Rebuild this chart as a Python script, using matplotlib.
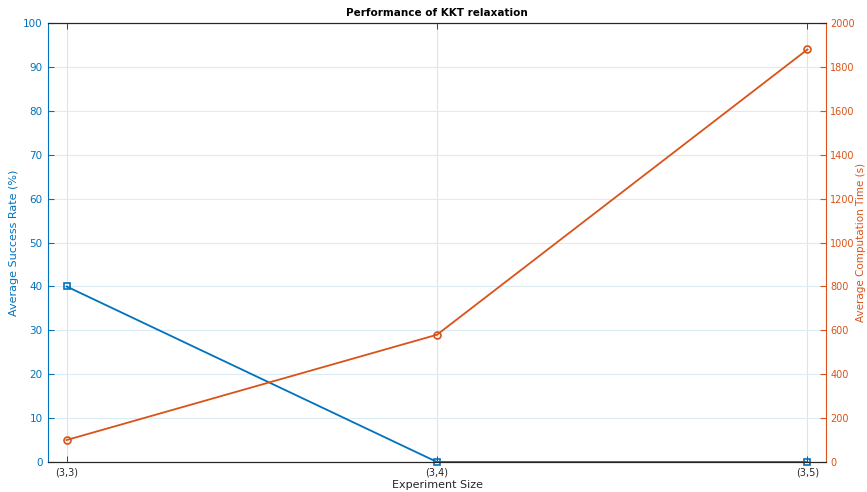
import numpy as np
import matplotlib
matplotlib.use('Agg')
import matplotlib.pyplot as plt

sizes = ['(3,3)', '(3,4)', '(3,5)']
success_rate = [40, 0, 0]
comp_time = [100, 580, 1880]

blue = '#0072BD'
orange = '#D95319'

fig = plt.figure(figsize=(8.67, 4.92), dpi=100)
ax = fig.add_axes([0.0554, 0.061, 0.8973, 0.892])
ax2 = ax.twinx()

x = np.arange(1, len(sizes) + 1)

ax.plot(x, success_rate, color=blue, lw=1.3, marker='s', ms=4.5, mfc='none', mew=1.2, clip_on=False, zorder=5)
ax2.plot(x, comp_time, color=orange, lw=1.3, marker='o', ms=5, mfc='none', mew=1.2, clip_on=False, zorder=5)

ax.set_xlim(0.95, 3.05)
ax.set_ylim(0, 100)
ax2.set_ylim(0, 2000)
ax.set_xticks(x)
ax.set_xticklabels(sizes)
ax.set_yticks(np.arange(0, 101, 10))
ax2.set_yticks(np.arange(0, 2001, 200))

# grid: horizontal from left axis, vertical at categories
ax.grid(axis='y', color='#dcecf4', lw=0.8)
ax.grid(axis='x', color='#e2e2e2', lw=0.8)
ax.set_axisbelow(True)

ax.tick_params(axis='x', direction='in', length=4, colors='#262626', labelsize=7, top=True, width=0.6, pad=4)
ax.tick_params(axis='y', direction='in', length=4, colors=blue, labelsize=7.5, width=0.8, pad=4)
ax2.tick_params(axis='y', direction='in', length=4, colors=orange, labelsize=7, width=0.8, pad=3)

ax.spines['left'].set_color(blue)
ax2.spines['left'].set_visible(False)
ax2.spines['right'].set_color(orange)
ax.spines['right'].set_visible(False)
for a in (ax, ax2):
    a.spines['top'].set_color('#262626')
    a.spines['bottom'].set_color('#262626')
    a.spines['top'].set_linewidth(0.8)
    a.spines['bottom'].set_linewidth(0.8)

ax.set_xlabel('Experiment Size', fontsize=8, color='#262626', labelpad=2)
ax.set_ylabel('Average Success Rate (%)', fontsize=8, color=blue, labelpad=3)
ax2.set_ylabel('Average Computation Time (s)', fontsize=7.5, color=orange,
               rotation=90, va='center', ha='center')
ax2.yaxis.set_label_coords(1.0455, 0.5)
ax.set_title('Performance of KKT relaxation', fontsize=7.5, fontweight='bold', pad=5)

fig.savefig('out.png', dpi=100)
